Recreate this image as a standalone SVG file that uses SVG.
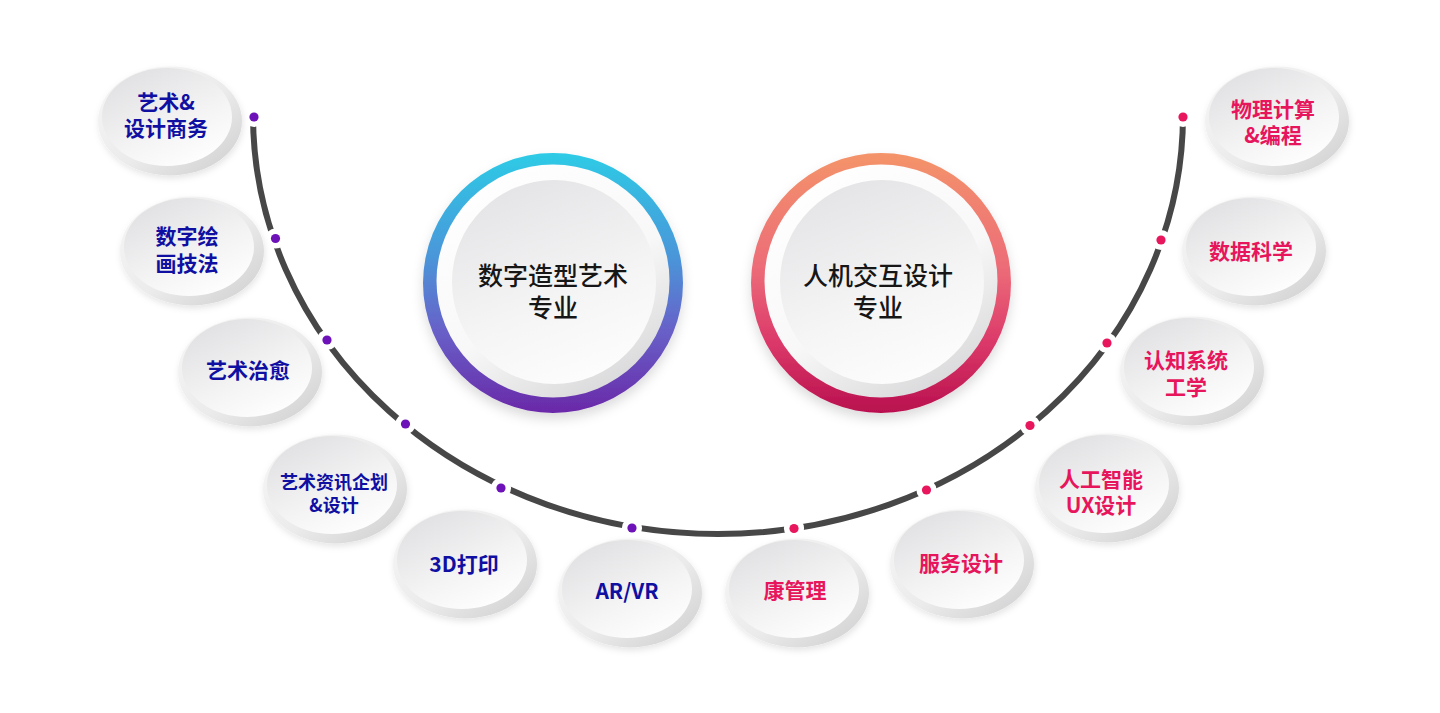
<svg xmlns="http://www.w3.org/2000/svg" xmlns:xlink="http://www.w3.org/1999/xlink" width="1440" height="713" viewBox="0 0 1440 713">
<defs>
<style>
.lb{font-family:"Noto Sans CJK SC","Noto Sans",sans-serif;font-weight:700;font-size:21px;fill:#0f0fa2;text-anchor:middle}
.rb{font-family:"Noto Sans CJK SC","Noto Sans",sans-serif;font-weight:700;font-size:21px;fill:#e6155c;text-anchor:middle}
.ct{font-family:"Noto Sans CJK SC","Noto Sans",sans-serif;font-weight:500;font-size:25px;fill:#161616;text-anchor:middle}
.arc{fill:none;stroke:#474747;stroke-width:6}
.dp{fill:#6c12b8;stroke:#fff;stroke-width:11;paint-order:stroke}
.dr{fill:#e8175d;stroke:#fff;stroke-width:11;paint-order:stroke}
</style>
<linearGradient id="rimG" x1="0" y1="0" x2="1" y2="1">
<stop offset="0" stop-color="#f7f7f7"/><stop offset="0.55" stop-color="#ebebeb"/><stop offset="1" stop-color="#cdcdcf"/>
</linearGradient>
<linearGradient id="faceG" x1="0.15" y1="0" x2="0.8" y2="1">
<stop offset="0" stop-color="#dfdfe1"/><stop offset="0.6" stop-color="#f4f4f5"/><stop offset="1" stop-color="#ffffff"/>
</linearGradient>
<filter id="sh" x="-20%" y="-20%" width="140%" height="150%">
<feDropShadow dx="1" dy="3" stdDeviation="3" flood-color="#000" flood-opacity="0.10"/>
</filter>
<filter id="sh2" x="-20%" y="-20%" width="140%" height="150%">
<feDropShadow dx="0" dy="6" stdDeviation="6" flood-color="#000" flood-opacity="0.14"/>
</filter>
<g id="bubble">
<ellipse cx="0" cy="0" rx="72" ry="54.5" fill="url(#rimG)" filter="url(#sh)"/>
<ellipse cx="-3" cy="-4" rx="65" ry="49" fill="url(#faceG)"/>
</g>
<linearGradient id="ringL" x1="0" y1="0" x2="0" y2="1">
<stop offset="0" stop-color="#2dcbe6"/><stop offset="0.4" stop-color="#4a96d9"/><stop offset="0.68" stop-color="#6761c8"/><stop offset="1" stop-color="#6a28a8"/>
</linearGradient>
<linearGradient id="ringR" x1="0" y1="0" x2="0" y2="1">
<stop offset="0" stop-color="#f4946a"/><stop offset="0.45" stop-color="#ec6b78"/><stop offset="0.72" stop-color="#dc3a6a"/><stop offset="1" stop-color="#b8104e"/>
</linearGradient>
<linearGradient id="whiteG" x1="0.2" y1="0" x2="0.8" y2="1">
<stop offset="0" stop-color="#ffffff"/><stop offset="0.55" stop-color="#f8f8f8"/><stop offset="1" stop-color="#d6d6d8"/>
</linearGradient>
<linearGradient id="innerG" x1="0.3" y1="0" x2="0.7" y2="1">
<stop offset="0" stop-color="#e4e4e6"/><stop offset="0.6" stop-color="#f5f5f6"/><stop offset="1" stop-color="#fdfdfd"/>
</linearGradient>
</defs>
<rect width="1440" height="713" fill="#ffffff"/>

<g id="connectors">
<path class="arc" d="M 253 115 A 465 419 0 0 0 1183 115"/>
<circle class="dp" cx="254" cy="117" r="4.6"/>
<circle class="dp" cx="275.5" cy="238.5" r="4.6"/>
<circle class="dp" cx="327" cy="340" r="4.6"/>
<circle class="dp" cx="405.5" cy="424" r="4.6"/>
<circle class="dp" cx="501" cy="488" r="4.6"/>
<circle class="dp" cx="632" cy="528" r="4.6"/>
<circle class="dr" cx="794" cy="528.5" r="4.6"/>
<circle class="dr" cx="926.5" cy="490" r="4.6"/>
<circle class="dr" cx="1030" cy="425.5" r="4.6"/>
<circle class="dr" cx="1107" cy="343" r="4.6"/>
<circle class="dr" cx="1161" cy="240" r="4.6"/>
<circle class="dr" cx="1183" cy="117" r="4.6"/>
</g>

<g id="major-digital-art">
<circle cx="553" cy="283" r="130" fill="url(#ringL)" filter="url(#sh2)"/>
<circle cx="553" cy="281" r="116.5" fill="url(#whiteG)"/>
<circle cx="554" cy="282" r="102" fill="url(#innerG)"/>
<text class="ct" x="553" y="285">数字造型艺术</text>
<text class="ct" x="553" y="317">专业</text>
</g>

<g id="major-hci">
<circle cx="881" cy="283" r="130" fill="url(#ringR)" filter="url(#sh2)"/>
<circle cx="881" cy="281" r="116.5" fill="url(#whiteG)"/>
<circle cx="882" cy="282" r="102" fill="url(#innerG)"/>
<text class="ct" x="878" y="285">人机交互设计</text>
<text class="ct" x="878" y="317">专业</text>
</g>

<g id="n-art-business">
<use href="#bubble" x="170" y="121"/>
<text class="lb" x="166" y="110">艺术&amp;</text>
<text class="lb" x="166" y="136">设计商务</text>
</g>
<g id="n-digital-painting">
<use href="#bubble" x="192" y="251"/>
<text class="lb" x="187" y="244">数字绘</text>
<text class="lb" x="187" y="271">画技法</text>
</g>
<g id="n-art-therapy">
<use href="#bubble" x="250" y="372"/>
<text class="lb" x="248" y="378">艺术治愈</text>
</g>
<g id="n-art-info">
<use href="#bubble" x="335" y="489"/>
<text class="lb" style="font-size:18px" x="334" y="489">艺术资讯企划</text>
<text class="lb" style="font-size:18px" x="334" y="512">&amp;设计</text>
</g>
<g id="n-3d-print">
<use href="#bubble" x="465" y="564"/>
<text class="lb" x="464" y="572">3D打印</text>
</g>
<g id="n-arvr">
<use href="#bubble" x="630" y="593"/>
<text class="lb" x="627" y="599">AR/VR</text>
</g>
<g id="n-health">
<use href="#bubble" x="797" y="593"/>
<text class="rb" x="795" y="598">康管理</text>
</g>
<g id="n-service">
<use href="#bubble" x="962" y="564"/>
<text class="rb" x="961" y="571">服务设计</text>
</g>
<g id="n-ai-ux">
<use href="#bubble" x="1107" y="488"/>
<text class="rb" x="1101" y="487">人工智能</text>
<text class="rb" x="1101" y="513">UX设计</text>
</g>
<g id="n-cognitive">
<use href="#bubble" x="1192" y="371"/>
<text class="rb" x="1186" y="368">认知系统</text>
<text class="rb" x="1186" y="395">工学</text>
</g>
<g id="n-data-science">
<use href="#bubble" x="1254" y="251"/>
<text class="rb" x="1251" y="259">数据科学</text>
</g>
<g id="n-physical-computing">
<use href="#bubble" x="1277" y="121"/>
<text class="rb" x="1273" y="117">物理计算</text>
<text class="rb" x="1273" y="143">&amp;编程</text>
</g>
</svg>
